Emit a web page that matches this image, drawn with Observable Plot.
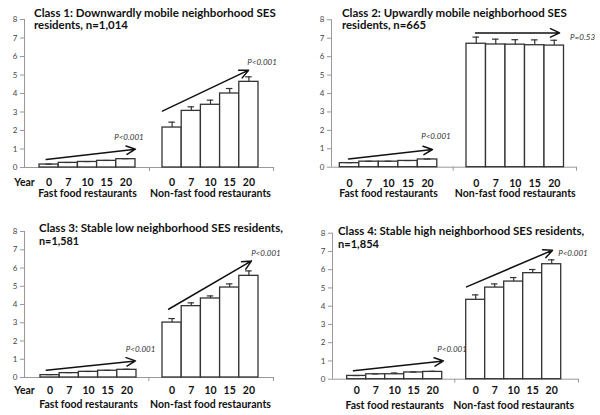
<!DOCTYPE html>
<html><head><meta charset="utf-8">
<script src="https://cdn.jsdelivr.net/npm/d3@7"></script>
<script src="https://cdn.jsdelivr.net/npm/@observablehq/plot@0.6"></script>
<style>
body{margin:0;background:#fff;}
#wrap{position:relative;width:600px;height:415px;overflow:hidden;font-family:Lato,"Open Sans",sans-serif;}
.panel{position:absolute;}
.panel svg{display:block;}
.tl{position:absolute;font-family:Lato,sans-serif;font-weight:bold;font-size:11.5px;line-height:11.5px;height:11.5px;white-space:nowrap;transform-origin:0 50%;color:#111;}
</style></head><body><div id="wrap"></div>
<script>
// ---- data ----
const years = ["0", "7", "10", "15", "20"];
const groups = ["Fast food restaurants", "Non-fast food restaurants"];
const titles = [
  ["Class 1: Downwardly mobile neighborhood SES", "residents, n=1,014"],
  ["Class 2: Upwardly mobile neighborhood SES", "residents, n=665"],
  ["Class 3: Stable low neighborhood SES  residents,", "n=1,581"],
  ["Class 4: Stable high neighborhood SES  residents,", "n=1,854"]
];
const fastMeans = [
  [0.16, 0.25, 0.30, 0.36, 0.45],
  [0.22, 0.30, 0.30, 0.34, 0.42],
  [0.13, 0.24, 0.31, 0.37, 0.42],
  [0.18, 0.27, 0.27, 0.37, 0.40]
];
const fastErr = [
  [0.02, 0.02, 0.02, 0.02, 0.03],
  [0.03, 0.02, 0.02, 0.02, 0.02],
  [0.03, 0.03, 0.02, 0.02, 0.03],
  [0.02, 0.02, 0.07, 0.02, 0.03]
];
const nonFastMeans = [
  [2.16, 3.06, 3.39, 4.00, 4.63],
  [6.70, 6.66, 6.65, 6.62, 6.60],
  [3.01, 3.91, 4.33, 4.93, 5.57],
  [4.35, 5.02, 5.35, 5.81, 6.30]
];
const nonFastErr = [
  [0.29, 0.22, 0.25, 0.27, 0.27],
  [0.36, 0.29, 0.27, 0.29, 0.29],
  [0.22, 0.18, 0.14, 0.20, 0.27],
  [0.27, 0.20, 0.22, 0.20, 0.24]
];
const pValues = [
  ["P<0.001", "P<0.001"],
  ["P<0.001", "P=0.53"],
  ["P<0.001", "P<0.001"],
  ["P<0.001", "P<0.001"]
];

// ---- annotation placement (bar-index units, value units) ----
const trendArrows = [
  [{x1:-0.15,y1:0.43,x2:4.5,y2:0.99},{x1:5.9,y1:3.05,x2:10.39,y2:5.26}],
  [{x1:-0.05,y1:0.45,x2:4.25,y2:0.96},{x1:6.46,y1:7.29,x2:10.77,y2:7.29}],
  [{x1:-0.2,y1:0.40,x2:4.45,y2:0.91},{x1:6.17,y1:3.74,x2:10.49,y2:6.39}],
  [{x1:-0.17,y1:0.46,x2:4.57,y2:1.0},{x1:5.78,y1:5.06,x2:10.31,y2:7.07}]
];
const pPos = [
  [{x:4.16,y:1.62},{x:11.09,y:5.68}],
  [{x:4.43,y:1.67},{x:11.95,y:7.06}],
  [{x:4.71,y:1.55},{x:11.24,y:6.79}],
  [{x:5.02,y:1.64},{x:11.38,y:6.90}]
];

// ---- layout ----
const layout = [
  {left:0,top:0,h:207,axisL:24,axisR:273,fastStart:39,nonStart:162,bw:19.2,sep:149,y8:19,y0:167,yearDy:15,groupDy:26,yearLabel:true,
   tx:34,ty:[13,25],tw:[242,94]},
  {left:300,top:0,h:207,axisL:31,axisR:276,fastStart:39.3,nonStart:166,bw:19.5,sep:152.7,y8:19.3,y0:166.7,yearDy:16,groupDy:26.7,yearLabel:false,
   tx:42,ty:[12.7,25],tw:[225,84]},
  {left:0,top:207,h:208,axisL:24,axisR:273,fastStart:40,nonStart:162,bw:19.2,sep:148.3,y8:24,y0:170,yearDy:13,groupDy:27,yearLabel:true,
   tx:39,ty:[21,34],tw:[247,40]},
  {left:300,top:207,h:208,axisL:32,axisR:278,fastStart:46.7,nonStart:165.7,bw:19,sep:154.3,y8:25.7,y0:171.7,yearDy:11.7,groupDy:26.7,yearLabel:false,
   tx:38,ty:[24,37],tw:[249,41]}
];

const wrap = document.getElementById("wrap");
const measureCtx = document.createElement("canvas").getContext("2d");

layout.forEach((cfg, k) => {
  const W = 300, H = cfg.h;
  const bw = cfg.bw, c0 = cfg.fastStart + bw / 2;
  const off = (cfg.nonStart - cfg.fastStart) / bw;
  const xmin = (cfg.axisL - c0) / bw, xmax = (cfg.axisR - c0) / bw;
  const pxPerUnit = (cfg.y0 - cfg.y8) / 8;
  const tickLen = -4 / pxPerUnit;
  const sepX = (cfg.sep - c0) / bw;

  const rows = [];
  years.forEach((yr, i) => {
    rows.push({g: 0, yr, pos: i, v: fastMeans[k][i], e: fastErr[k][i]});
    rows.push({g: 1, yr, pos: off + i, v: nonFastMeans[k][i], e: nonFastErr[k][i]});
  });
  const arrows = trendArrows[k];
  const plabels = pValues[k].map((p, i) => ({text: p, x: pPos[k][i].x, y: pPos[k][i].y}));
  const groupLabels = groups.map((g, i) => ({text: g, x: i === 0 ? 2 : off + 2}));

  const marks = [
    Plot.axisY({ticks: d3.range(0, 9), tickSize: 4, tickPadding: 3, fontSize: 8, fill: "#444", stroke: "#999", label: null, anchor: "left"}),
    Plot.ruleX([xmin], {y1: 0, y2: 8, stroke: "#999"}),
    Plot.ruleY([0], {stroke: "#999"}),
    Plot.ruleX([sepX, xmax], {y1: 0, y2: tickLen, stroke: "#999"}),
    Plot.rect(rows, {x1: d => d.pos - 0.5, x2: d => d.pos + 0.5, y1: 0, y2: "v", fill: "white", stroke: "#333", strokeWidth: 1.3}),
    Plot.ruleX(rows, {x: "pos", y1: "v", y2: d => d.v + d.e, stroke: "#333", strokeWidth: 1.2}),
    Plot.ruleY(rows, {y: d => d.v + d.e, x1: d => d.pos - 0.17, x2: d => d.pos + 0.17, stroke: "#333", strokeWidth: 1.2}),
    Plot.text(rows, {x: "pos", y: 0, dy: cfg.yearDy, text: "yr", fontWeight: "bold", fontSize: 10.5, fill: "#111"}),
    Plot.text(groupLabels, {x: "x", y: 0, dy: cfg.groupDy, text: "text", fontWeight: "bold", fontSize: 10.5, fill: "#111"}),
    Plot.arrow(arrows, {x1: "x1", y1: "y1", x2: "x2", y2: "y2", stroke: "#111", strokeWidth: 1.5, headLength: 10, headAngle: 50}),
    Plot.text(plabels, {x: "x", y: "y", text: "text", fontStyle: "italic", fontSize: 8, fill: "#333"})
  ];
  if (cfg.yearLabel) {
    marks.push(Plot.text(["Year"], {x: xmin, y: 0, dy: cfg.yearDy, text: d => d, fontWeight: "bold", fontSize: 10.5, fill: "#111"}));
  }

  const chart = Plot.plot({
    width: W, height: H,
    marginLeft: cfg.axisL, marginRight: W - cfg.axisR,
    marginTop: cfg.y8, marginBottom: H - cfg.y0,
    x: {domain: [xmin, xmax], axis: null},
    y: {domain: [0, 8], axis: null},
    style: {fontFamily: "Lato, sans-serif", background: "white", overflow: "visible"},
    marks
  });

  const div = document.createElement("div");
  div.className = "panel";
  div.style.left = cfg.left + "px";
  div.style.top = cfg.top + "px";
  div.style.width = W + "px";
  div.style.height = H + "px";
  div.appendChild(chart);

  titles[k].forEach((line, j) => {
    const t = document.createElement("div");
    t.className = "tl";
    t.textContent = line;
    t.style.left = cfg.tx + "px";
    t.style.top = (cfg.ty[j] - 5.75) + "px";
    measureCtx.font = "bold 11.5px Lato";
    const w = measureCtx.measureText(line.replace(/\s+$/, "")).width;
    if (w > 0) t.style.transform = `scaleX(${(cfg.tw[j] / w).toFixed(3)})`;
    div.appendChild(t);
  });
  wrap.appendChild(div);
});
</script>
</body></html>
